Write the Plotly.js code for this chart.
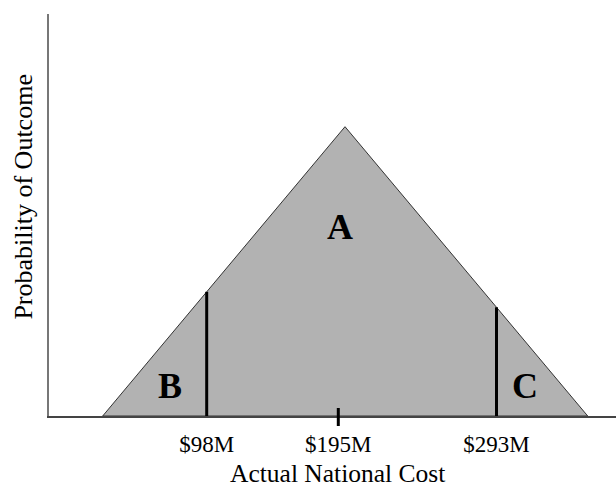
<!DOCTYPE html>
<html>
<head>
<meta charset="utf-8">
<script src="https://cdn.plot.ly/plotly-3.0.1.min.js"></script>
<style>
  html, body { margin: 0; padding: 0; background: #fff; }
  #chart { width: 616px; height: 491px; }
</style>
</head>
<body>
<div id="chart"></div>
<script>
// Cost scale (abstract units along the x axis) and relative probability
const triangleX = [53.7, 296, 538.7];
const triangleY = [0, 289.3, 0];
const cutoffX = [157.7, 447.5];          // $98M and $293M cut-offs
const centerX = 289.3;                   // $195M marker
const tickPositions = [157.7, 289.3, 447.5];
const tickLabels = ['$98M', '$195M', '$293M'];
const regionLabels = ['A', 'B', 'C'];
const regionX = [290.5, 121, 475.5];
const regionY = [189, 30.5, 30.5];

// height of the triangle at a given x (on its edges)
function edgeHeight(x) {
  if (x <= triangleX[1]) {
    return triangleY[1] * (x - triangleX[0]) / (triangleX[1] - triangleX[0]);
  }
  return triangleY[1] * (triangleX[2] - x) / (triangleX[2] - triangleX[1]);
}

const serif = '"Liberation Serif", "Times New Roman", Times, serif';

const traces = [
  {
    type: 'scatter',
    x: triangleX.concat([triangleX[0]]),
    y: triangleY.concat([triangleY[0]]),
    mode: 'lines',
    fill: 'toself',
    fillcolor: '#b2b2b2',
    line: { color: '#333333', width: 1 },
    hoverinfo: 'skip',
    showlegend: false
  }
];
cutoffX.forEach(function (cx) {
  traces.push({
    type: 'scatter',
    x: [cx, cx],
    y: [0, edgeHeight(cx)],
    mode: 'lines',
    line: { color: '#000000', width: 3 },
    hoverinfo: 'skip',
    showlegend: false
  });
});

const annotations = regionLabels.map(function (t, i) {
  return {
    x: regionX[i], y: regionY[i], xref: 'x', yref: 'y',
    text: '<b>' + t + '</b>', showarrow: false,
    font: { family: serif, size: 36, color: '#000' },
    xanchor: 'center', yanchor: 'middle'
  };
});
annotations.push({
  x: -0.045, y: 0.547, xref: 'paper', yref: 'paper',
  text: 'Probability of Outcome', showarrow: false, textangle: -90,
  font: { family: serif, size: 26, color: '#000' },
  xanchor: 'center', yanchor: 'middle'
});
annotations.push({
  x: 0.509, y: -0.143, xref: 'paper', yref: 'paper',
  text: 'Actual National Cost', showarrow: false,
  font: { family: serif, size: 25.5, color: '#000' },
  xanchor: 'center', yanchor: 'middle'
});

const layout = {
  width: 616, height: 491,
  margin: { l: 49, r: 0, t: 14, b: 75 },
  paper_bgcolor: '#ffffff',
  plot_bgcolor: '#ffffff',
  showlegend: false,
  font: { family: serif, color: '#000' },
  xaxis: {
    range: [0, 567],
    showgrid: false, zeroline: false,
    showline: true, linecolor: '#444444', linewidth: 2,
    tickmode: 'array', tickvals: tickPositions, ticktext: tickLabels,
    ticks: '', ticklabelstandoff: 6,
    tickfont: { family: serif, size: 23, color: '#000' },
    fixedrange: true
  },
  yaxis: {
    range: [0, 402],
    showgrid: false, zeroline: false,
    showline: true, linecolor: '#777777', linewidth: 2,
    showticklabels: false, ticks: '',
    fixedrange: true
  },
  shapes: [
    {
      type: 'line', xref: 'x', yref: 'paper',
      ysizemode: 'pixel', yanchor: 0,
      x0: centerX, x1: centerX, y0: -10, y1: 8,
      line: { color: '#000000', width: 3 }
    }
  ],
  annotations: annotations
};

Plotly.newPlot('chart', traces, layout, { staticPlot: true, displayModeBar: false });
</script>
</body>
</html>
